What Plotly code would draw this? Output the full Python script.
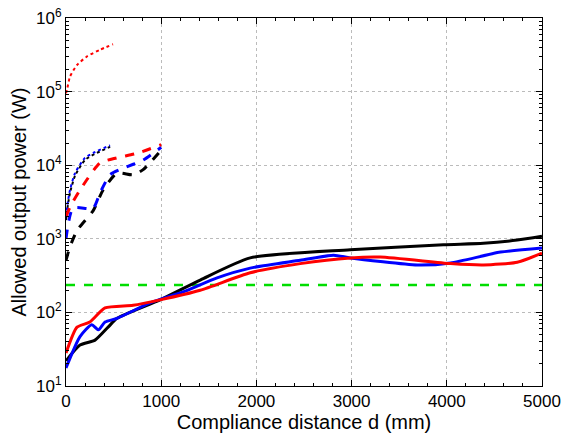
import plotly.graph_objects as go

# Dotted curves (d up to ~500 mm)
red_dot_x = [0, 10, 42, 116, 220, 357, 494]
red_dot_y = [9.5e4, 1.05e5, 1.6e5, 2.3e5, 3.0e5, 3.7e5, 4.4e5]
blue_dot_x = [0, 20, 42, 95, 200, 300, 463]
blue_dot_y = [2.0e3, 3.2e3, 4.6e3, 7.8e3, 1.26e4, 1.5e4, 1.86e4]
black_dot_x = [0, 20, 42, 95, 200, 300, 463]
black_dot_y = [1.8e3, 2.9e3, 4.2e3, 7.2e3, 1.18e4, 1.42e4, 1.78e4]

# Dashed curves (d up to 1000 mm)
red_dash_x = [0, 42, 147, 357, 536, 746, 1000]
red_dash_y = [2.0e3, 2.7e3, 4.6e3, 1.07e4, 1.26e4, 1.45e4, 1.9e4]
blue_dash_x = [0, 74, 284, 357, 463, 600, 810, 1000]
blue_dash_y = [1.0e3, 2.6e3, 2.6e3, 4.2e3, 7.4e3, 9.1e3, 1.17e4, 1.75e4]
black_dash_x = [0, 42, 116, 284, 390, 536, 705, 810, 1000]
black_dash_y = [5.1e2, 7.8e2, 1.3e3, 2.4e3, 4.6e3, 7.8e3, 7.4e3, 8.7e3, 1.6e4]

# Threshold line
green_x = [0, 5000]
green_y = [235, 235]

# Solid curves
red_x = [0, 116, 250, 410, 705, 988, 1410, 1935, 2460, 2986, 3300, 4040, 4385, 4740, 5000]
red_y = [28, 63, 74, 115, 125, 148, 200, 345, 460, 550, 565, 460, 440, 480, 640]
blue_x = [0, 147, 270, 340, 410, 536, 883, 1230, 1587, 1935, 2460, 2810, 2986, 3690, 4040, 4565, 5000]
blue_y = [17.6, 47, 68, 58, 74, 83, 135, 190, 295, 400, 510, 600, 550, 440, 470, 660, 750]
black_x = [0, 147, 305, 442, 536, 988, 1410, 1935, 2986, 3965, 4385, 4740, 5000]
black_y = [22, 36, 42, 63, 83, 148, 275, 550, 710, 830, 870, 960, 1080]

y_major = [10, 100, 1000, 1e4, 1e5, 1e6]
y_labels = ["10<sup>1</sup>", "10<sup>2</sup>", "10<sup>3</sup>", "10<sup>4</sup>", "10<sup>5</sup>", "10<sup>6</sup>"]
y_minor = [m * 10 ** k for k in range(1, 6) for m in range(2, 10)]

fig = go.Figure()

def add(x, y, color, dash, width):
    fig.add_trace(go.Scatter(x=x, y=y, mode="lines",
                             line=dict(color=color, dash=dash, width=width, shape="spline", smoothing=0.6),
                             showlegend=False))

add(red_dot_x, red_dot_y, "#ff0000", "dot", 2)
add(black_dot_x, black_dot_y, "#000000", "dot", 2)
add(blue_dot_x, blue_dot_y, "#0000ff", "dot", 2)
add(black_dash_x, black_dash_y, "#000000", "dash", 3)
add(blue_dash_x, blue_dash_y, "#0000ff", "dash", 3)
add(red_dash_x, red_dash_y, "#ff0000", "dash", 3)
fig.add_trace(go.Scatter(x=green_x, y=green_y, mode="lines",
                         line=dict(color="#00dd00", dash="dash", width=2.5), showlegend=False))
add(black_x, black_y, "#000000", "solid", 3)
add(blue_x, blue_y, "#0000ff", "solid", 3)
add(red_x, red_y, "#ff0000", "solid", 3)

font = dict(family="Liberation Sans, Arial, sans-serif", size=17, color="black")

fig.update_layout(
    width=566, height=441,
    margin=dict(l=66, r=24, t=18, b=55),
    paper_bgcolor="white", plot_bgcolor="white",
    font=font,
    xaxis=dict(
        range=[0, 5000], tickvals=[0, 1000, 2000, 3000, 4000, 5000],
        automargin=False,
        showline=True, linecolor="black", linewidth=1, mirror="ticks",
        ticks="inside", ticklen=6, tickcolor="black",
        showgrid=True, gridcolor="#bbbbbb", griddash="dot", gridwidth=1,
        zeroline=False,
        minor=dict(ticks="inside", ticklen=3, dtick=200, tickcolor="black", showgrid=False),
        title=dict(text="Compliance distance d (mm)", standoff=2),
    ),
    yaxis=dict(
        type="log", range=[1, 6],
        tickvals=y_major, ticktext=y_labels,
        automargin=False,
        showline=True, linecolor="black", linewidth=1, mirror="ticks",
        ticks="inside", ticklen=6, tickcolor="black",
        showgrid=True, gridcolor="#bbbbbb", griddash="dot", gridwidth=1,
        zeroline=False,
        minor=dict(ticks="inside", ticklen=3, tickmode="array", tickvals=y_minor,
                   tickcolor="black", showgrid=False),
        title=dict(text="Allowed output power (W)", standoff=4),
    ),
)

fig.write_html("out.html")
